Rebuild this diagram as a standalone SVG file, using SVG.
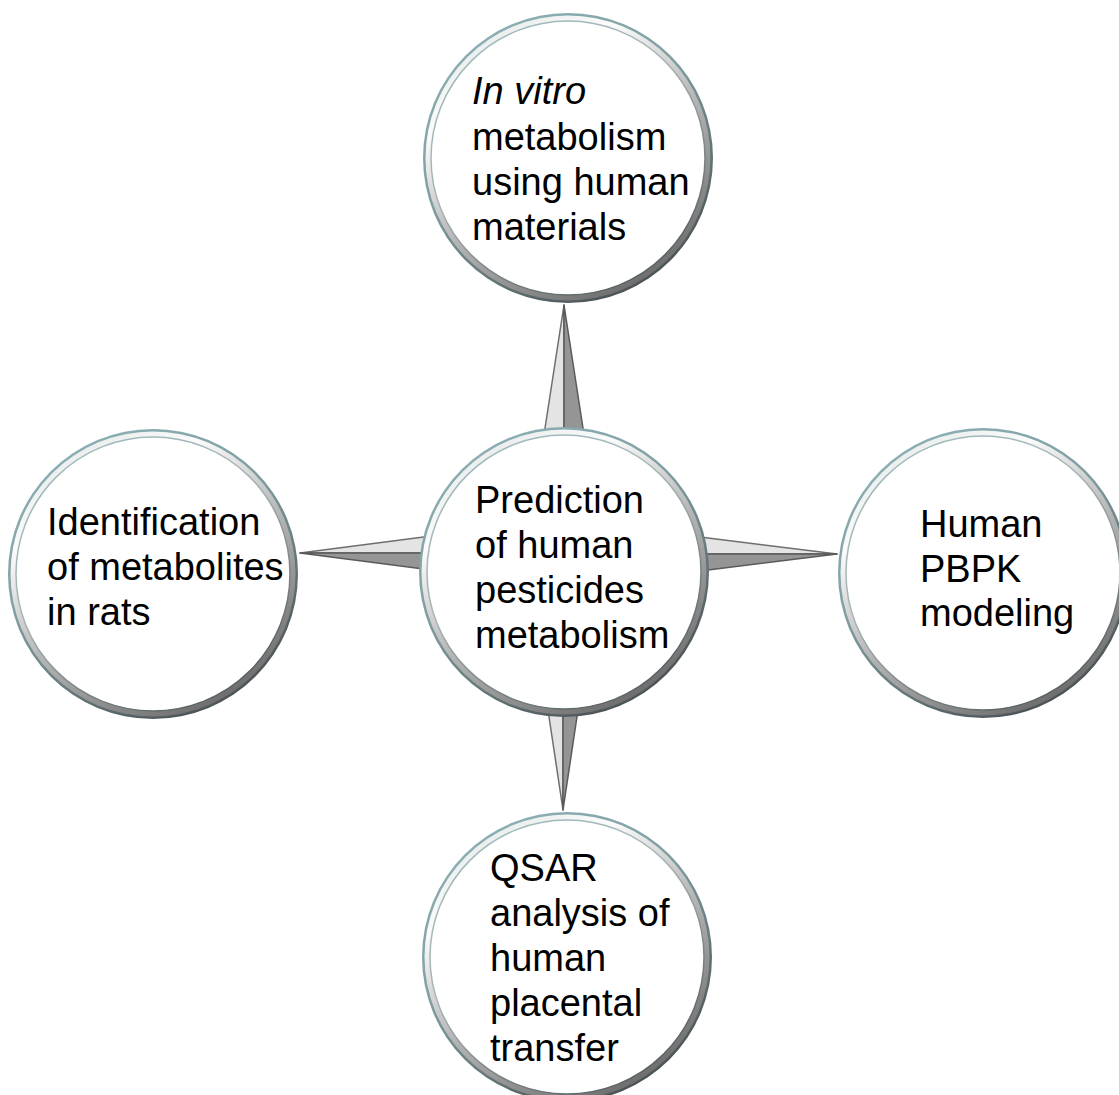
<svg xmlns="http://www.w3.org/2000/svg" width="1119" height="1095" viewBox="0 0 1119 1095">
  <defs>
    <linearGradient id="edge" x1="0" y1="0" x2="0.6" y2="1">
      <stop offset="0" stop-color="#8fb4b9"/>
      <stop offset="0.5" stop-color="#7e9ea2"/>
      <stop offset="1" stop-color="#4c5658"/>
    </linearGradient>
    <linearGradient id="band" x1="0.15" y1="0" x2="0.75" y2="1">
      <stop offset="0" stop-color="#e4e8e8"/>
      <stop offset="0.25" stop-color="#fbfbfb"/>
      <stop offset="0.55" stop-color="#b8b8b8"/>
      <stop offset="1" stop-color="#666666"/>
    </linearGradient>
    <linearGradient id="inner" x1="0" y1="0" x2="0.6" y2="1">
      <stop offset="0" stop-color="#9dbcc0"/>
      <stop offset="0.5" stop-color="#a8b4b6"/>
      <stop offset="1" stop-color="#5a6466"/>
    </linearGradient>
  </defs>
  <style>
    .outer { fill: url(#edge); }
    .band { fill: url(#band); }
    .face { fill: #ffffff; stroke: url(#inner); stroke-width: 1.5; }
    .lbl { font-family: "Liberation Sans", Arial, sans-serif; font-size: 38px; fill: #000000; }
    .lite { fill: #e4e4e4; stroke: #6e6e6e; stroke-width: 1.5; stroke-linejoin: round; }
    .dark { fill: #959595; stroke: #5a5a5a; stroke-width: 1.5; stroke-linejoin: round; }
  </style>
  <rect width="1119" height="1095" fill="#ffffff"/>

  <g id="connectors">
    <!-- top spike -->
    <polygon class="lite" points="564,305 537,480 564,480"/>
    <polygon class="dark" points="564,305 591,480 564,480"/>
    <!-- bottom spike -->
    <polygon class="lite" points="563,810 542,670 563,670"/>
    <polygon class="dark" points="563,810 584,670 563,670"/>
    <!-- left spike -->
    <polygon class="lite" points="300,553 470,531 470,553"/>
    <polygon class="dark" points="300,553 470,575 470,553"/>
    <!-- right spike -->
    <polygon class="lite" points="837,554 660,532 660,554"/>
    <polygon class="dark" points="837,554 660,576 660,554"/>
  </g>

  <g id="node-top">
    <circle class="outer" cx="568" cy="158" r="145"/>
    <circle class="band" cx="568" cy="158" r="142.5"/>
    <circle class="face" cx="568" cy="158" r="137"/>
    <text class="lbl" x="472" y="104" font-style="italic">In vitro</text>
    <text class="lbl" x="472" y="150">metabolism</text>
    <text class="lbl" x="472" y="195">using human</text>
    <text class="lbl" x="472" y="240">materials</text>
  </g>

  <g id="node-left">
    <circle class="outer" cx="153" cy="574" r="145"/>
    <circle class="band" cx="153" cy="574" r="142.5"/>
    <circle class="face" cx="153" cy="574" r="137"/>
    <text class="lbl" x="47" y="535">Identification</text>
    <text class="lbl" x="47" y="580">of metabolites</text>
    <text class="lbl" x="47" y="625">in rats</text>
  </g>

  <g id="node-right">
    <circle class="outer" cx="983" cy="573" r="145"/>
    <circle class="band" cx="983" cy="573" r="142.5"/>
    <circle class="face" cx="983" cy="573" r="137"/>
    <text class="lbl" x="920" y="537">Human</text>
    <text class="lbl" x="920" y="582">PBPK</text>
    <text class="lbl" x="920" y="626">modeling</text>
  </g>

  <g id="node-bottom">
    <circle class="outer" cx="567" cy="957" r="145"/>
    <circle class="band" cx="567" cy="957" r="142.5"/>
    <circle class="face" cx="567" cy="957" r="137"/>
    <text class="lbl" x="490" y="881">QSAR</text>
    <text class="lbl" x="490" y="926">analysis of</text>
    <text class="lbl" x="490" y="971">human</text>
    <text class="lbl" x="490" y="1016">placental</text>
    <text class="lbl" x="490" y="1061">transfer</text>
  </g>

  <g id="node-center">
    <circle class="outer" cx="564" cy="572" r="145"/>
    <circle class="band" cx="564" cy="572" r="142.5"/>
    <circle class="face" cx="564" cy="572" r="137"/>
    <text class="lbl" x="475" y="513">Prediction</text>
    <text class="lbl" x="475" y="558">of human</text>
    <text class="lbl" x="475" y="603">pesticides</text>
    <text class="lbl" x="475" y="648">metabolism</text>
  </g>
</svg>
